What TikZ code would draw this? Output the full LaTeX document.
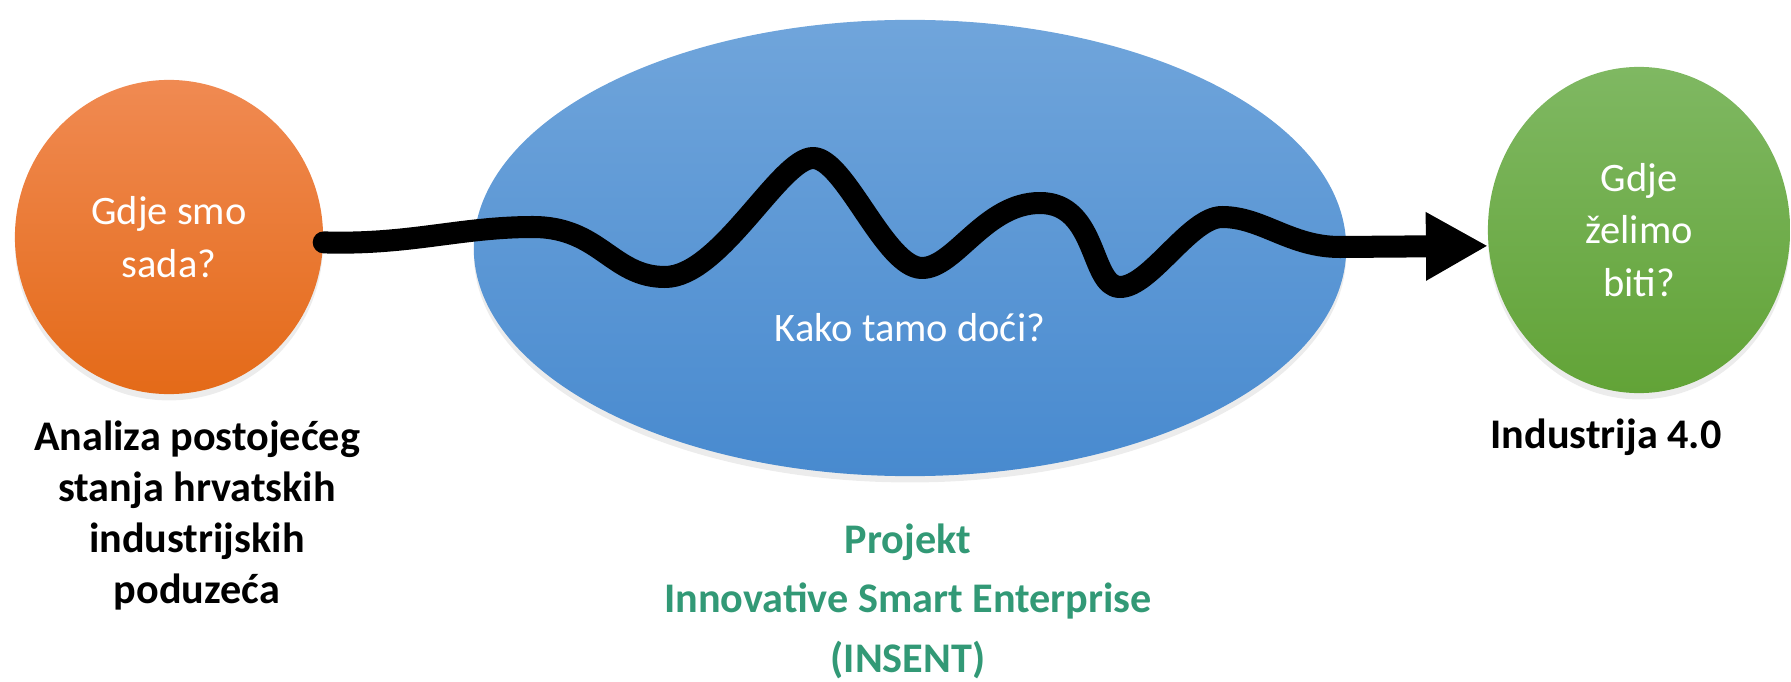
\documentclass[tikz,border=0pt]{standalone}
\usepackage{fontspec}
\setmainfont{Carlito}
\usetikzlibrary{shapes.geometric,arrows.meta,shadows}
\definecolor{orTop}{RGB}{240,138,82}
\definecolor{orBot}{RGB}{228,106,24}
\definecolor{blTop}{RGB}{112,165,219}
\definecolor{blBot}{RGB}{72,138,207}
\definecolor{grTop}{RGB}{127,184,98}
\definecolor{grBot}{RGB}{98,163,55}
\definecolor{insent}{RGB}{50,153,118}
\begin{document}
\begin{tikzpicture}[x=0.01cm,y=-0.01cm,
  blob/.style={ellipse, inner sep=0pt, text=white, align=center,
    font=\fontsize{11.5}{15}\selectfont,
    drop shadow={shadow xshift=0pt,shadow yshift=-1.8pt,opacity=0.15}},
  caption/.style={align=center, font=\bfseries\fontsize{12}{14.5}\selectfont},
  path/.style={line width=0.22cm, line join=round, line cap=round,
    -{Triangle[width=0.64cm,length=0.62cm]}}
  ]
\useasboundingbox (0,0) rectangle (1791,682);
\node[blob, top color=orTop, bottom color=orBot, minimum width=3.08cm, minimum height=3.14cm] (now) at (169,237) {Gdje smo\\sada?};
\node[blob, top color=blTop, bottom color=blBot, minimum width=8.72cm, minimum height=4.56cm] (how) at (910,248) {};
\node[blob, top color=grTop, bottom color=grBot, minimum width=3.02cm, minimum height=3.26cm] (goal) at (1639,230) {Gdje\\želimo\\biti?};
\node[text=white, font=\fontsize{11.5}{15}\selectfont, anchor=base] (howtext) at (910,341) {Kako tamo doći?};
\coordinate (w1) at (533,227);
\coordinate (w2) at (665,277);
\coordinate (w3) at (813,158);
\coordinate (w4) at (922,268);
\coordinate (w5) at (1040,203);
\coordinate (w6) at (1120,287);
\coordinate (w7) at (1222,217);
\coordinate (w8) at (1340,247);
\draw[path] (now.-2) .. controls (410,245) and (460,227) .. (w1)
  .. controls (600,227) and (612,277) .. (w2)
  .. controls (720,277) and (780,158) .. (w3)
  .. controls (845,158) and (885,268) .. (w4)
  .. controls (955,268) and (985,203) .. (w5)
  .. controls (1098,203) and (1090,287) .. (w6)
  .. controls (1150,287) and (1190,217) .. (w7)
  .. controls (1262,217) and (1290,247) .. (w8)
  -- (goal.186);
\node[caption, anchor=base] (nowcap) at (197,603) {Analiza postojećeg\\stanja hrvatskih\\industrijskih\\poduzeća};
\node[caption, anchor=base] (goalcap) at (1606,448) {Industrija 4.0};
\node[caption, text=insent, font=\bfseries\fontsize{12}{16.8}\selectfont, anchor=base] (proj) at (908,672) {Projekt\\Innovative Smart Enterprise\\(INSENT)};
\end{tikzpicture}
\end{document}
